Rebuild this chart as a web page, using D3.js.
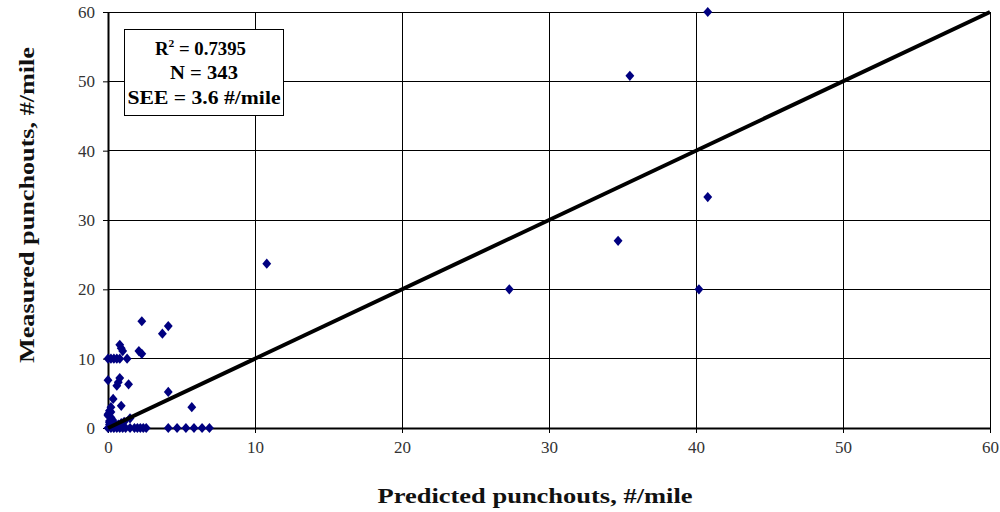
<!DOCTYPE html>
<html><head><meta charset="utf-8">
<script src="https://cdn.jsdelivr.net/npm/d3@7"></script>
<style>body{margin:0;background:#fff}svg{display:block}</style>
</head><body>
<script>
const xTicks = [0,10,20,30,40,50,60];
const yTicks = [0,10,20,30,40,50,60];
const predicted = [40.8,35.5,40.8,34.7,27.3,40.2,10.8,3.7,4.1,2.3,2.1,2.3,0.8,0.9,1.0,
  0,0.2,0.4,0.6,0.8,1.3,0,0.8,0.7,0.6,1.4,4.1,0.35,0.9,5.7,
  0.1,0.1,0.2,0,0.1,0.2,0.3,0.1,0,0.2,1.5,0.5,
  0,0.2,0.4,0.6,0.8,1.0,1.2,1.5,1.8,2.0,2.2,2.4,2.6,4.1,4.7,5.3,5.85,6.4,6.9,
  0.3,0.5,0.7,0.9,1.1,0.2,0.4];
const measured = [60,50.8,33.3,27,20,20,23.7,13.6,14.7,15.4,11.1,10.7,12,11.5,11.1,
  10,10,10,10,10,10,6.9,7.2,6.6,6.1,6.3,5.2,4.2,3.2,3.0,
  0.5,1.0,1.5,2.0,2.5,3.0,1.2,0.8,1.8,2.3,1.4,0.6,
  0,0,0,0,0,0,0,0,0,0,0,0,0,0,0,0,0,0,0,
  0.3,0.4,0.5,0.7,0.9,0.2,0.1];
const lineX = [0,60];
const lineY = [0,60];
const statLines = ["N = 343","SEE = 3.6 #/mile"];

const W=1000,H=512;
const svg=d3.select("body").append("svg").attr("width",W).attr("height",H);
const x=d3.scaleLinear().domain([0,60]).range([108,990]);
const y=d3.scaleLinear().domain([0,60]).range([428,12]);
const font="'Liberation Serif','Times New Roman',serif";

// grid
svg.append("g").selectAll("line").data(xTicks.slice(1)).join("line")
  .attr("x1",d=>x(d)).attr("x2",d=>x(d)).attr("y1",y(60)).attr("y2",y(0))
  .attr("stroke","#000").attr("stroke-width",1).attr("shape-rendering","crispEdges");
svg.append("g").selectAll("line").data(yTicks.slice(1)).join("line")
  .attr("y1",d=>y(d)).attr("y2",d=>y(d)).attr("x1",x(0)).attr("x2",x(60))
  .attr("stroke","#000").attr("stroke-width",1).attr("shape-rendering","crispEdges");

// axes
const xa=svg.append("g").attr("transform",`translate(0,${y(0)})`)
  .call(d3.axisBottom(x).tickValues(xTicks).tickSize(5).tickSizeOuter(0).tickPadding(8));
const ya=svg.append("g").attr("transform",`translate(${x(0)},0)`)
  .call(d3.axisLeft(y).tickValues(yTicks).tickSize(5).tickSizeOuter(0).tickPadding(8));
[xa,ya].forEach(a=>{
  a.select(".domain").attr("stroke","#000").attr("stroke-width",2);
  a.selectAll(".tick line").attr("stroke","#000");
  a.selectAll("text").attr("font-family",font).attr("font-size",17).attr("fill","#333");
});

// points
const pts=predicted.map((p,i)=>({p,m:measured[i]}));
svg.append("g").selectAll("path").data(pts).join("path")
  .attr("d",d3.symbol().type(d3.symbolDiamond2).size(50))
  .attr("transform",d=>`translate(${x(d.p)},${y(d.m)}) scale(1,1.15)`)
  .attr("fill","#000080");

// 1:1 line
svg.append("line").attr("x1",x(lineX[0])).attr("y1",y(lineY[0]))
  .attr("x2",x(lineX[1])).attr("y2",y(lineY[1]))
  .attr("stroke","#000").attr("stroke-width",4);

// stats box
svg.append("rect").attr("x",124.5).attr("y",29.5).attr("width",159).attr("height",86)
  .attr("fill","#fff").attr("stroke","#000").attr("stroke-width",1);
const t1=svg.append("text").attr("x",155).attr("y",55)
  .attr("font-family",font).attr("font-weight","bold").attr("font-size",18)
  .attr("textLength",91).attr("lengthAdjust","spacingAndGlyphs");
t1.append("tspan").text("R");
t1.append("tspan").attr("font-size",11).attr("dy",-8).text("2");
t1.append("tspan").attr("dy",8).text(" = 0.7395");
const widths=[68,153];
statLines.forEach((s,i)=>{
  svg.append("text").attr("x",204).attr("y",79+i*25).attr("text-anchor","middle")
    .attr("font-family",font).attr("font-weight","bold").attr("font-size",18)
    .attr("textLength",widths[i]).attr("lengthAdjust","spacingAndGlyphs").text(s);
});

// axis titles
svg.append("text").attr("x",535).attr("y",503).attr("text-anchor","middle")
  .attr("font-family",font).attr("font-weight","bold").attr("font-size",22).attr("fill","#111")
  .attr("textLength",315).attr("lengthAdjust","spacingAndGlyphs")
  .text("Predicted punchouts, #/mile");
svg.append("text").attr("transform","translate(34,205) rotate(-90)").attr("text-anchor","middle")
  .attr("font-family",font).attr("font-weight","bold").attr("font-size",22).attr("fill","#111")
  .attr("textLength",316).attr("lengthAdjust","spacingAndGlyphs")
  .text("Measured punchouts, #/mile");
</script>
</body></html>
